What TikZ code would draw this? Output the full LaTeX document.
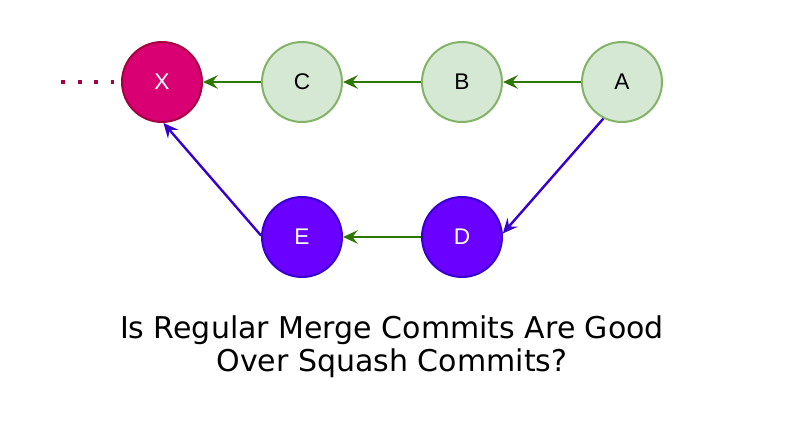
\documentclass[tikz,border=0pt]{standalone}
\usepackage{fontspec}
\setmainfont{Liberation Sans}
\newfontfamily\titlefont{DejaVu Sans}
\usetikzlibrary{arrows.meta}
\definecolor{xfill}{HTML}{D80073}
\definecolor{xdraw}{HTML}{A50040}
\definecolor{gfill}{HTML}{D5E8D4}
\definecolor{gdraw}{HTML}{82B366}
\definecolor{pfill}{HTML}{6A00FF}
\definecolor{pdraw}{HTML}{3700CC}
\definecolor{garrow}{HTML}{2D7600}
\begin{document}
\begin{tikzpicture}[x=0.75pt,y=-0.75pt,
  commit/.style={circle,minimum size=60pt,inner sep=0pt,line width=1.5pt,font=\fontsize{17}{20}\selectfont},
  xnode/.style={commit,fill=xfill,draw=xdraw,text=white},
  gnode/.style={commit,fill=gfill,draw=gdraw,text=black},
  pnode/.style={commit,fill=pfill,draw=pdraw,text=white},
  garr/.style={draw=garrow,line width=1.8pt,-{Stealth[length=11pt,width=10pt,inset=4pt]}},
  parr/.style={draw=pdraw,line width=1.8pt,-{Stealth[length=11pt,width=10pt,inset=4pt]}},
  dots/.style={draw=xdraw,line width=3pt,dash pattern=on 3pt off 9.5pt}]
\useasboundingbox (0,0) rectangle (793,433);
\node[xnode] (X) at (162,82) {X};
\node[gnode] (C) at (302,82) {C};
\node[gnode] (B) at (462,82) {B};
\node[gnode] (A) at (622,82) {A};
\node[pnode] (E) at (302,237) {E};
\node[pnode] (D) at (462,237) {D};
\coordinate (dotstart) at (61,82);
\coordinate (dotend) at (114,82);
\draw[dots] (dotstart) -- (dotend);
\draw[garr] (C) -- (X);
\draw[garr] (B) -- (C);
\draw[garr] (A) -- (B);
\draw[garr] (D) -- (E);
\draw[parr] (A.243) -- (D.5);
\draw[parr] (E.178) -- (X.272);
\node[font=\titlefont\fontsize{22.5}{25}\selectfont,align=center] (T) at (392,347) {Is Regular Merge Commits Are Good\\Over Squash Commits?};
\end{tikzpicture}
\end{document}
